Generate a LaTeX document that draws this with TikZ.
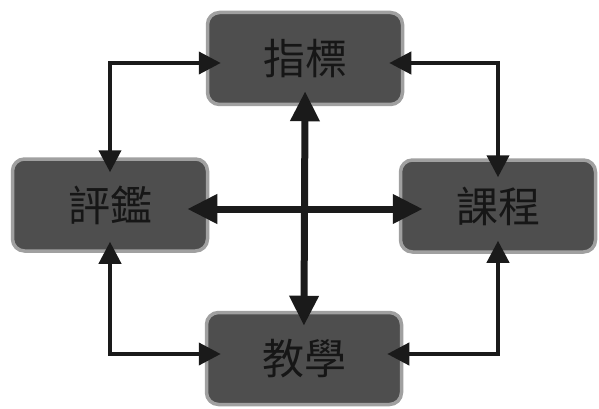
\documentclass[tikz,border=0pt]{standalone}
\usepackage{fontspec}
\newfontfamily\cjkfont{Noto Sans CJK TC}
\usetikzlibrary{arrows.meta}
\definecolor{boxfill}{HTML}{4E4E4E}
\definecolor{boxedge}{HTML}{A0A0A0}
\definecolor{txt}{HTML}{161616}
\definecolor{ln}{HTML}{1A1A1A}
\tikzset{
  stagebox/.style={draw=boxedge, line width=3.5pt, fill=boxfill, rounded corners=12pt,
    minimum width=195pt, minimum height=92pt, inner sep=0pt,
    font=\cjkfont\fontsize{42}{46}\selectfont, text=txt},
  thinarrow/.style={draw=ln, line width=4pt, {Triangle[length=22pt,width=22pt]}-{Triangle[length=22pt,width=22pt]}},
  thickarrow/.style={draw=ln, line width=7pt, {Triangle[length=30pt,width=28pt]}-{Triangle[length=30pt,width=28pt]}}
}
\begin{document}
\begin{tikzpicture}[x=1pt,y=-1pt]
\useasboundingbox (0,0) rectangle (599,409);
\node[stagebox] (top) at (305,58.5) {指標};
\node[stagebox] (left) at (110,205) {評鑑};
\node[stagebox] (right) at (498,206) {課程};
\node[stagebox] (bottom) at (304,358.5) {教學};
% thick cross
\draw[thickarrow, shorten <=-15pt, shorten >=-15pt] (top.south) -- (bottom.north);
\draw[thickarrow, shorten <=-22pt, shorten >=-24pt] (left.east |- 0,209) -- (right.west |- 0,209);
% thin connectors
\draw[thinarrow, shorten <=-15pt, shorten >=-15pt] (left.north) |- ([yshift=-4.5pt]top.west);
\draw[thinarrow, shorten <=-15pt, shorten >=-19pt] ([yshift=-4.5pt]top.east) -| (right.north);
\draw[thinarrow, shorten <=-13pt, shorten >=-16pt] (right.south) |- ([yshift=4.5pt]bottom.east);
\draw[thinarrow, shorten <=-11pt, shorten >=-16pt] (left.south) |- ([yshift=4.5pt]bottom.west);
\end{tikzpicture}
\end{document}
